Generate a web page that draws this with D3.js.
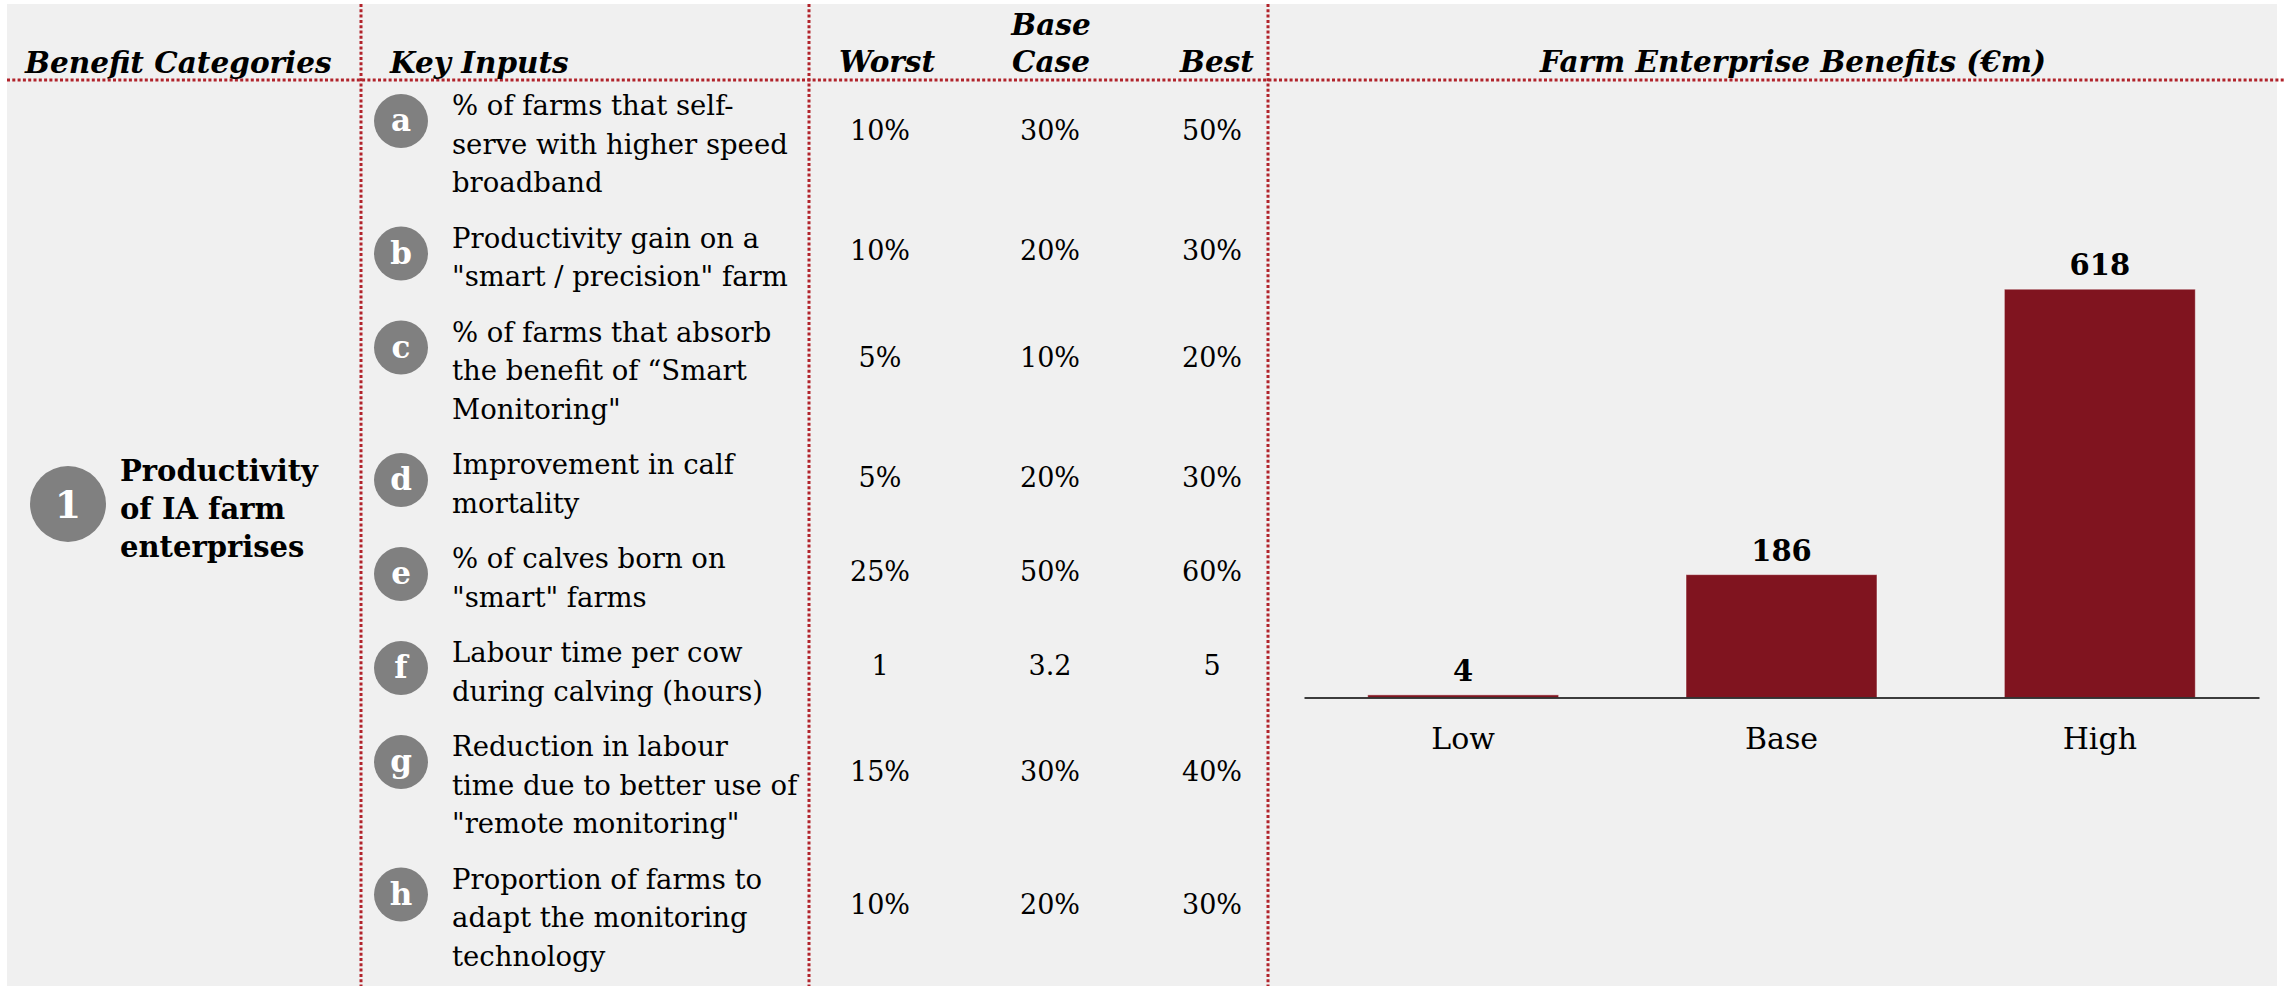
<!DOCTYPE html>
<html>
<head>
<meta charset="utf-8">
<script src="https://cdn.jsdelivr.net/npm/d3@7"></script>
<style>
  body { margin: 0; background: #ffffff; }
  svg { display: block; }
</style>
</head>
<body>
<svg id="chart" width="2285" height="986"></svg>
<script>
// ---- Table content ----
const sectionHeaders = ['Benefit Categories', 'Key Inputs'];
const scenarioHeaders = [['Worst'], ['Base', 'Case'], ['Best']];
const chartTitle = 'Farm Enterprise Benefits (€m)';
const categoryNumber = '1';
const categoryName = ['Productivity', 'of IA farm', 'enterprises'];

const inputLetters = ['a', 'b', 'c', 'd', 'e', 'f', 'g', 'h'];
const inputLabels = [
  ['% of farms that self-', 'serve with higher speed', 'broadband'],
  ['Productivity gain on a', '"smart / precision" farm'],
  ['% of farms that absorb', 'the benefit of \u201cSmart', 'Monitoring"'],
  ['Improvement in calf', 'mortality'],
  ['% of calves born on', '"smart" farms'],
  ['Labour time per cow', 'during calving (hours)'],
  ['Reduction in labour', 'time due to better use of', '"remote monitoring"'],
  ['Proportion of farms to', 'adapt the monitoring', 'technology']
];
const worstValues = ['10%', '10%', '5%', '5%', '25%', '1', '15%', '10%'];
const baseCaseValues = ['30%', '20%', '10%', '20%', '50%', '3.2', '30%', '20%'];
const bestValues = ['50%', '30%', '20%', '30%', '60%', '5', '40%', '30%'];

// ---- Bar chart content ----
const scenarios = ['Low', 'Base', 'High'];
const benefits = [4, 186, 618];

// ---- Drawing ----
const W = 2285, H = 986;
const serif = "'DejaVu Serif', 'Liberation Serif', serif";
const dotRed = '#b1232b';
const barRed = '#80141f';
const badgeGrey = '#808080';

const svg = d3.select('#chart');

svg.append('rect')
  .attr('x', 7).attr('y', 4)
  .attr('width', 2270).attr('height', H - 4)
  .attr('fill', '#f0f0f0');

// dotted grid rules
const colRules = [361, 809, 1268];
svg.append('g').selectAll('line').data(colRules).join('line')
  .attr('x1', d => d).attr('x2', d => d)
  .attr('y1', 4).attr('y2', H)
  .attr('stroke', dotRed).attr('stroke-width', 3)
  .attr('stroke-dasharray', '3 2.3');
svg.append('line')
  .attr('x1', 7).attr('x2', W).attr('y1', 80).attr('y2', 80)
  .attr('stroke', dotRed).attr('stroke-width', 3)
  .attr('stroke-dasharray', '3 2.3');

// header row
const headerFont = g => g.attr('font-family', serif)
  .attr('font-weight', 'bold').attr('font-style', 'italic')
  .attr('font-size', 29.5).attr('fill', '#000');

svg.append('text').call(headerFont)
  .attr('x', 25).attr('y', 73).text(sectionHeaders[0]);
svg.append('text').call(headerFont)
  .attr('x', 390).attr('y', 73).text(sectionHeaders[1]);
svg.append('text').call(headerFont)
  .attr('x', 1793).attr('y', 72).attr('text-anchor', 'middle').text(chartTitle);

const valueCols = [880, 1050, 1212];
const headerCols = [887, 1051, 1217];
scenarioHeaders.forEach((lines, i) => {
  const t = svg.append('text').call(headerFont)
    .attr('text-anchor', 'middle');
  lines.forEach((ln, j) => {
    t.append('tspan')
      .attr('x', headerCols[i])
      .attr('y', 72 - (lines.length - 1 - j) * 37)
      .text(ln);
  });
});

// benefit category
svg.append('circle').attr('cx', 68).attr('cy', 504).attr('r', 38).attr('fill', badgeGrey);
svg.append('text')
  .attr('x', 68).attr('y', 518).attr('text-anchor', 'middle')
  .attr('font-family', serif).attr('font-weight', 'bold').attr('font-size', 38)
  .attr('fill', '#fff').text(categoryNumber);
const cat = svg.append('text')
  .attr('font-family', serif).attr('font-weight', 'bold').attr('font-size', 29)
  .attr('fill', '#000');
categoryName.forEach((ln, j) => {
  cat.append('tspan').attr('x', 120).attr('y', 481 + j * 38).text(ln);
});

// key input rows, stacked by their line count
const lineH = 38.5, rowGap = 17;
let cursor = 115;
const rows = inputLabels.map((lines, i) => {
  const r = {
    letter: inputLetters[i], lines,
    values: [worstValues[i], baseCaseValues[i], bestValues[i]],
    base: cursor
  };
  cursor += lines.length * lineH + rowGap;
  return r;
});

const rowG = svg.append('g').selectAll('g').data(rows).join('g');

rowG.append('circle')
  .attr('cx', 401).attr('cy', d => d.base + 6).attr('r', 27)
  .attr('fill', badgeGrey);
rowG.append('text')
  .attr('x', 401).attr('y', d => d.base + 16)
  .attr('text-anchor', 'middle')
  .attr('font-family', serif).attr('font-weight', 'bold').attr('font-size', 31)
  .attr('fill', '#fff').text(d => d.letter);

rowG.append('text')
  .attr('font-family', serif).attr('font-size', 27.5).attr('fill', '#000')
  .selectAll('tspan').data(d => d.lines.map((ln, j) => ({ ln, y: d.base + j * lineH })))
  .join('tspan')
  .attr('x', 452).attr('y', d => d.y).text(d => d.ln);

rowG.selectAll('.val')
  .data(d => d.values.map((v, k) => ({ v, k, y: d.base + 12.5 + (d.lines.length - 2) * 12.5 })))
  .join('text').attr('class', 'val')
  .attr('x', d => valueCols[d.k]).attr('y', d => d.y)
  .attr('text-anchor', 'middle')
  .attr('font-family', serif).attr('font-size', 27).attr('fill', '#000')
  .text(d => d.v);

// bar chart
const x = d3.scaleBand(scenarios, [1304, 2259]).paddingInner(0.4).paddingOuter(0.2);
const y = d3.scaleLinear([0, 700], [697.5, 235]);

const data = scenarios.map((s, i) => ({ s, v: benefits[i] }));

svg.append('g').selectAll('rect').data(data).join('rect')
  .attr('x', d => x(d.s)).attr('width', x.bandwidth())
  .attr('y', d => y(d.v)).attr('height', d => y(0) - y(d.v))
  .attr('fill', barRed)
  .attr('stroke', '#ffffff').attr('stroke-opacity', 0.5).attr('stroke-width', 1);

svg.append('g').selectAll('text').data(data).join('text')
  .attr('x', d => x(d.s) + x.bandwidth() / 2)
  .attr('y', d => y(d.v) - 14)
  .attr('text-anchor', 'middle')
  .attr('font-family', serif).attr('font-weight', 'bold').attr('font-size', 29)
  .attr('fill', '#000').text(d => d.v);

const axis = svg.append('g')
  .attr('transform', `translate(0,${y(0)})`)
  .call(d3.axisBottom(x).tickSize(0).tickSizeOuter(0).tickPadding(30));
axis.select('.domain').attr('stroke', '#000').attr('stroke-width', 1.5);
axis.selectAll('text')
  .attr('font-family', serif).attr('font-size', 30).attr('fill', '#000');
</script>
</body>
</html>
